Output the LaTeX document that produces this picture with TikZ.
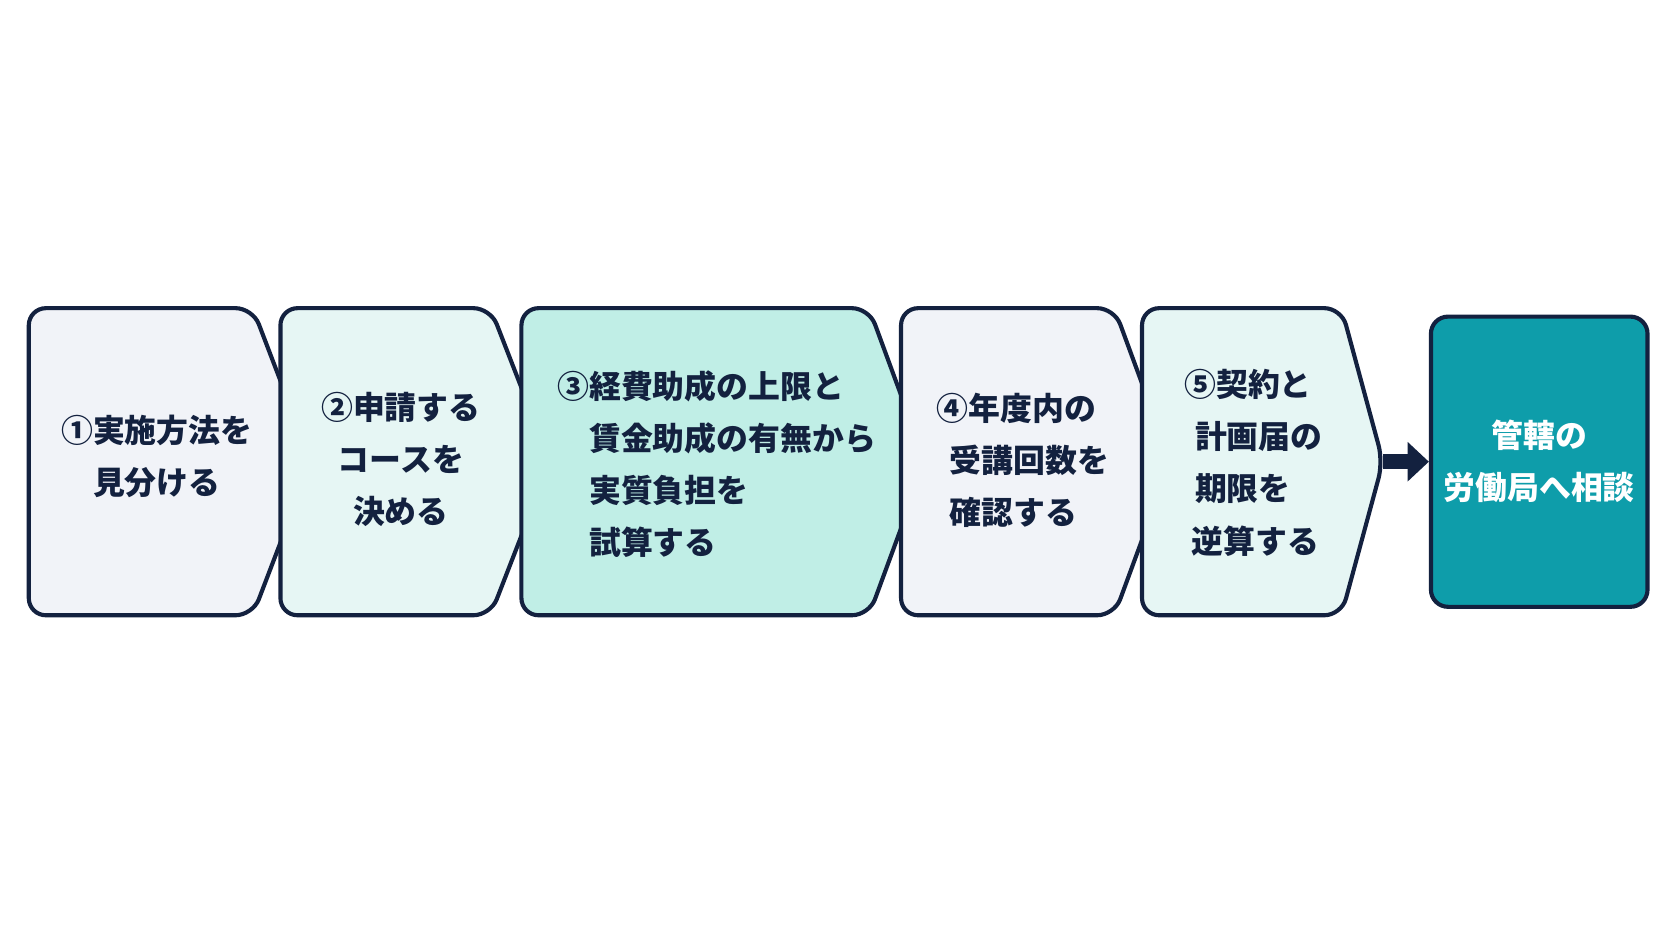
\documentclass[tikz,border=0pt]{standalone}
\usepackage{fontspec}
\setmainfont{Noto Sans CJK JP}
\usetikzlibrary{arrows.meta}
\definecolor{navy}{HTML}{13213F}
\definecolor{fa}{HTML}{F1F3F8}
\definecolor{fb}{HTML}{E6F6F4}
\definecolor{fc}{HTML}{C0EEE6}
\definecolor{teal}{HTML}{0E9DAA}
\begin{document}
\begin{tikzpicture}[x=0.01cm,y=-0.01cm,
  chev/.style={draw=navy,line width=1.1pt,rounded corners=0.16cm},
  lbl/.style={font=\fontsize{8.5}{13.9}\selectfont\bfseries,text=navy,inner sep=0pt}]
\fill[white] (0,0) rectangle (1568,882);
\useasboundingbox (0,0) rectangle (1568,882);
\newcommand\chevron[5]{% left, topright, tip, fill, name
  \draw[chev,fill=#4] (#1,289) -- (#2,289) -- (#3,433) -- (#2,577) -- (#1,577) -- cycle;
  \coordinate (#5) at (#3,433);}
\chevron{27}{237}{292}{fa}{t1}
\chevron{263}{460}{516}{fb}{t2}
\chevron{489}{815}{868}{fc}{t3}
\chevron{845}{1045}{1098}{fa}{t4}
\chevron{1071}{1258}{1297}{fb}{t5}
\node[lbl,align=center] (a) at (147,428) {①実施方法を\\見分ける};
\node[lbl,align=center] (b) at (376,431) {②申請する\\コースを\\決める};
\node[lbl,align=left,anchor=west] (c) at (522,435) {③経費助成の上限と\\\phantom{③}賃金助成の有無から\\\phantom{③}実質負担を\\\phantom{③}試算する};
\node[lbl,align=left,anchor=west] (d) at (878,432) {④年度内の\\\hspace{0.12cm}受講回数を\\\hspace{0.12cm}確認する};
\node[lbl,align=left,anchor=west] (e) at (1110,434) {⑤契約と\\\hspace{0.1cm}計画届の\\\hspace{0.1cm}期限を\\\hspace{0.07cm}逆算する};
\node[draw=navy,line width=1.1pt,fill=teal,rounded corners=0.16cm,minimum width=2.03cm,minimum height=2.72cm,inner sep=0pt] (f) at (1443.5,433) {};
\node[lbl,text=white,align=center] (ft) at (f.center) {管轄の\\労働局へ相談};
\draw[navy,line width=4pt,-{Triangle[length=0.2cm,width=0.36cm]}] (t5) -- (f.west);
\end{tikzpicture}
\end{document}
